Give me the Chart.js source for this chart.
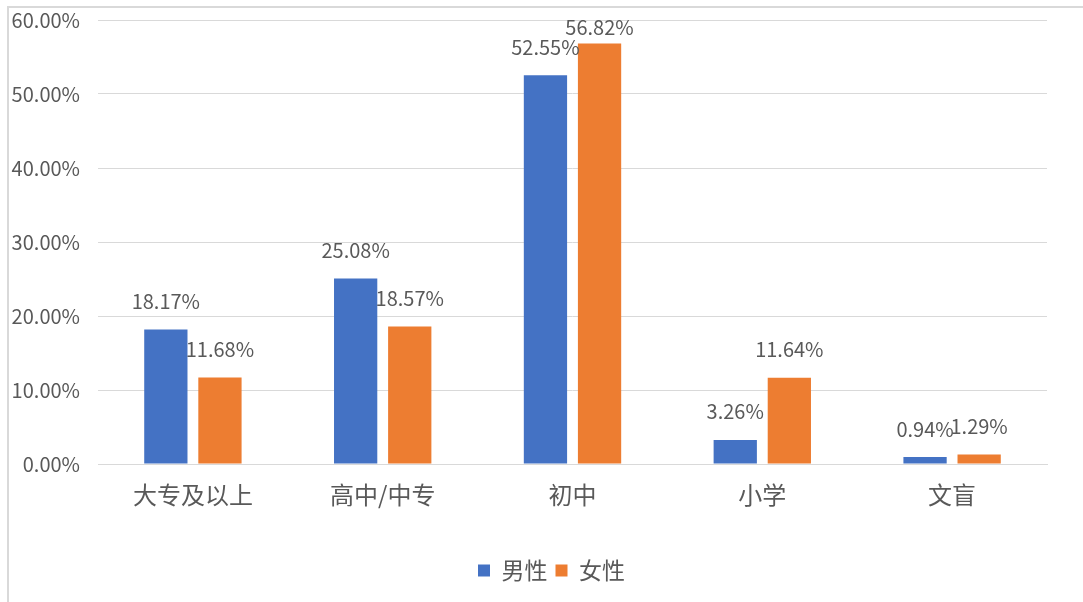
<!DOCTYPE html>
<html>
<head>
<meta charset="utf-8">
<script src="https://cdn.jsdelivr.net/npm/chart.js@4/dist/chart.umd.min.js"></script>
<style>
  body { margin: 0; background: #fff; }
  #frame { position: absolute; left: 7px; top: 6px; width: 1100px; height: 620px;
           border-left: 2px solid #d9d9d9; border-top: 2px solid #d9d9d9; }
  #wrap { position: absolute; left: 0; top: 0; width: 1083px; height: 602px; }
</style>
</head>
<body>
<div id="frame"></div>
<div id="wrap"><canvas id="eduChart" width="1083" height="602"></canvas></div>
<script>
let categories = ["大专及以上", "高中/中专", "初中", "小学", "文盲"];
let male = [18.17, 25.08, 52.55, 3.26, 0.94];
let female = [11.68, 18.57, 56.82, 11.64, 1.29];
let seriesNames = ["男性", "女性"];

let fontFamily = "'Noto Sans CJK SC', 'Noto Sans', sans-serif";
let textColor = "#595959";

// value labels above each bar, like Excel "outside end"
let barLabels = {
    id: "barLabels",
    afterLayout(chart) {
        // excel centres the legend a bit right of the canvas middle
        chart.legend.left += 28;
        chart.legend.right += 28;
    },
    afterDatasetsDraw(chart) {
        let ctx = chart.ctx;
        ctx.save();
        ctx.font = "20px " + fontFamily;
        ctx.fillStyle = textColor;
        ctx.textAlign = "center";
        ctx.textBaseline = "middle";
        chart.data.datasets.forEach((ds, i) => {
            chart.getDatasetMeta(i).data.forEach((bar, j) => {
                let y = Math.max(bar.y - 28, chart.chartArea.top + 7);
                ctx.fillText(ds.data[j].toFixed(2) + "%", bar.x, y);
            });
        });
        ctx.restore();
    }
};

let ctx = document.getElementById("eduChart").getContext("2d");
new Chart(ctx, {
    type: "bar",
    data: {
        labels: categories,
        datasets: [
            { label: seriesNames[0], data: male, backgroundColor: "#4472C4" },
            { label: seriesNames[1], data: female, backgroundColor: "#ED7D31" }
        ]
    },
    options: {
        responsive: false,
        animation: false,
        datasets: { bar: { categoryPercentage: 0.57, barPercentage: 0.8 } },
        layout: { padding: { left: 0, right: 36, top: 20, bottom: 10 } },
        scales: {
            x: {
                grid: { display: false, drawTicks: false },
                border: { color: "#d9d9d9", width: 1 },
                ticks: { color: textColor, font: { family: fontFamily, size: 24 }, padding: 16 },
                afterFit(scale) { scale.height = 87; }
            },
            y: {
                min: 0, max: 60,
                ticks: {
                    stepSize: 10,
                    color: textColor,
                    font: { family: fontFamily, size: 20 },
                    padding: 18,
                    callback: v => v.toFixed(2) + "%"
                },
                grid: { color: "#d9d9d9", lineWidth: 1, drawTicks: false },
                border: { display: false },
                afterFit(scale) {
                    scale.width = 98;
                    scale.paddingTop = 0;
                    scale.paddingBottom = 0;
                }
            }
        },
        plugins: {
            legend: {
                position: "bottom",
                labels: {
                    color: textColor,
                    font: { family: fontFamily, size: 23 },
                    boxWidth: 12, boxHeight: 12, padding: 8
                }
            },
            tooltip: { enabled: false }
        }
    },
    plugins: [barLabels]
});
</script>
</body>
</html>
